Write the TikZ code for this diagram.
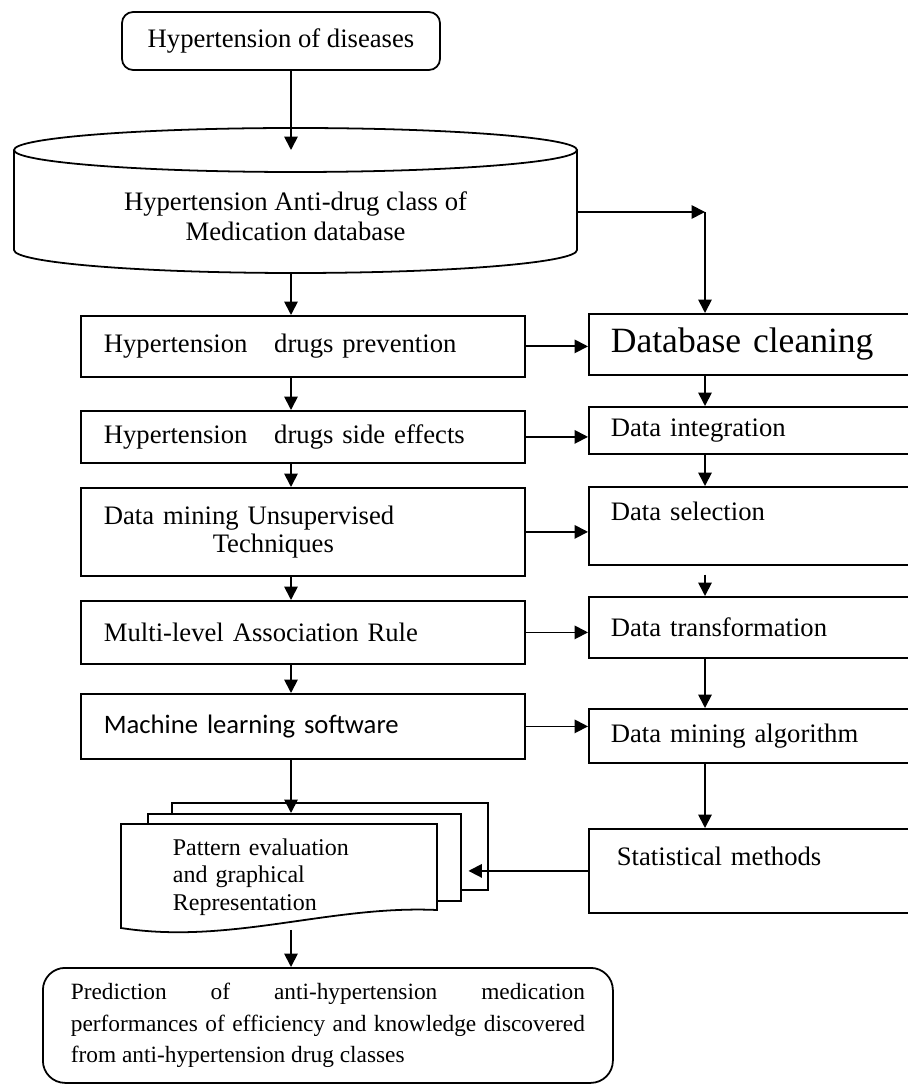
\documentclass[tikz,border=0pt]{standalone}
\usepackage{fontspec}
\setmainfont{Liberation Serif}
\newfontfamily\calibri{Carlito}
\usetikzlibrary{arrows.meta}

\newcommand{\twelve}{\fontsize{12}{13.5}\selectfont}

\tikzset{
  lbox/.style={draw, rectangle, anchor=north west, minimum width=199.8pt, text width=179.1pt, inner xsep=10.35pt, inner ysep=2pt, align=left},
  rbox/.style={draw, rectangle, anchor=north west, minimum width=153pt, text width=133.2pt, inner xsep=9.9pt, inner ysep=2pt, align=left},
  page/.style={draw, fill=white, rectangle, anchor=north west, inner sep=0pt},
  link/.style={-{Triangle[length=6pt,width=6pt]}},
}

\begin{document}
\begin{tikzpicture}[x=0.45pt, y=-0.45pt, line width=0.8pt, font=\twelve]
\useasboundingbox (0,0) rectangle (907,1084);

% spines of the two columns
\coordinate (lx) at (291,0);
\coordinate (turn) at (705,212);
\coordinate (dbtop) at (295.5,150);

\node[draw, rounded corners=5pt, minimum width=143.1pt, minimum height=26.1pt, align=center] (top) at (281,41) {Hypertension of diseases};

% database cylinder
\draw (dbtop) ellipse [x radius=281.5, y radius=22];
\draw (14,150) -- (14,250) arc [start angle=180, end angle=0, x radius=281.5, y radius=23] -- (577,150);
\node[minimum width=253.35pt, minimum height=51.3pt, align=center] (db) at (295.5,216) {Hypertension Anti-drug class of\\Medication database};

% left column
\node[lbox, minimum height=27.45pt] (b1) at (80,315) {Hypertension~~~drugs prevention};
\node[lbox, minimum height=23.4pt] (b2) at (80,410) {Hypertension~~~drugs side effects};
\node[lbox, minimum height=39.6pt, font=\fontsize{12}{12.5}\selectfont] (b3) at (80,487) {Data mining Unsupervised\\\hspace*{49pt}Techniques};
\node[lbox, minimum height=28.35pt] (b4) at (80,600) {Multi-level Association Rule};
\node[lbox, minimum height=29.25pt, font=\calibri\twelve] (b5) at (80,693) {Machine learning software};

% right column
\node[rbox, minimum height=27.45pt, font=\fontsize{16}{18}\selectfont] (r1) at (588,313) {Database cleaning};
\node[rbox, minimum height=21.15pt] (r2) at (588,406) {Data integration};
\node[rbox, minimum height=35.1pt] (r3) at (588,486) {Data selection\\\mbox{}};
\node[rbox, minimum height=27.45pt] (r4) at (588,596) {Data transformation};
\node[rbox, minimum height=24.3pt] (r5) at (588,708) {Data mining algorithm};
\node[rbox, minimum height=37.8pt] (r6) at (588,828) {\hspace*{2.7pt}Statistical methods\\\mbox{}};

% stack of pages
\node[page, minimum width=142.2pt, minimum height=39.15pt] (pg1) at (171,802) {};
\node[page, minimum width=140.85pt, minimum height=39.15pt] (pg2) at (147,813) {};
\draw[fill=white] (121,824) -- (437,824) -- (437,910) .. controls (330,905) and (230,945) .. (121,928) -- cycle;
\node[anchor=north west, minimum width=142.2pt, minimum height=46.8pt, text width=96.3pt, inner xsep=22.95pt, inner ysep=0pt, align=left, font=\fontsize{10.8}{12.4}\selectfont] (pg3) at (121,824) {Pattern evaluation\\and graphical\\Representation};

\node[draw, rounded corners=10pt, anchor=north west, minimum width=256.5pt, minimum height=51.75pt, text width=231.3pt, inner xsep=12.6pt, inner ysep=2pt, align=justify, font=\fontsize{10.5}{14}\selectfont] (res) at (42,967) {Prediction of anti-hypertension medication\linebreak performances of efficiency and knowledge discovered\linebreak from anti-hypertension drug classes};

% arrows down the left column
\draw[link] (top.south -| lx) -- (dbtop -| lx);
\draw[link] (db.south -| lx) -- (b1.north -| lx);
\draw[link] (b1.south -| lx) -- (b2.north -| lx);
\draw[link] (b2.south -| lx) -- (b3.north -| lx);
\draw[link] (b3.south -| lx) -- (b4.north -| lx);
\draw[link] (b4.south -| lx) -- (b5.north -| lx);
\draw[link] (b5.south -| lx) -- (pg2.north -| lx);
\draw[link] (pg3.south -| lx) -- (res.north -| lx);

% arrows down the right column
\draw[link] (turn -| db.east) -- (turn);
\draw[link] (turn) -- (r1.north -| turn);
\draw[link] (r1.south -| turn) -- (r2.north -| turn);
\draw[link] (r2.south -| turn) -- (r3.north -| turn);
\draw[link, shorten <=4pt] (r3.south -| turn) -- (r4.north -| turn);
\draw[link] (r4.south -| turn) -- (r5.north -| turn);
\draw[link] (r5.south -| turn) -- (r6.north -| turn);

% across
\draw[link] (b1.east) -- (b1.east -| r1.west);
\draw[link] (b2.east) -- (b2.east -| r2.west);
\draw[link] (b3.east) -- (b3.east -| r3.west);
\draw[link] (b4.east) -- (b4.east -| r4.west);
\draw[link] (b5.east) -- (b5.east -| r5.west);
\draw[link, shorten >=3pt] (r6.west) -- (r6.west -| pg2.east);
\end{tikzpicture}
\end{document}
